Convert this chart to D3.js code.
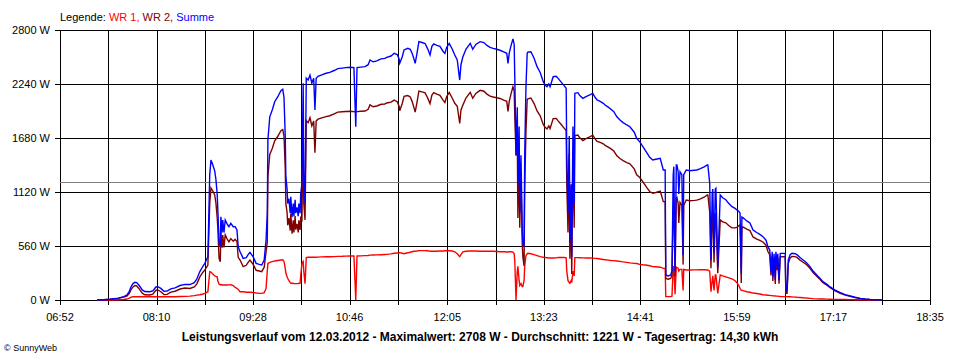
<!DOCTYPE html>
<html><head><meta charset="utf-8">
<script src="https://cdn.jsdelivr.net/npm/d3@7/dist/d3.min.js"></script>
<style>
html,body{margin:0;padding:0;background:#fff;}
svg{display:block;font-family:"Liberation Sans",Arial,sans-serif;}
</style></head>
<body>
<svg id="chart" width="960" height="360"></svg>
<script>
// ---- data ----
const times = ["07:22","07:27:30","07:32:30","07:39","07:43:30","07:46","07:48","07:49:30","07:51","07:52:30","07:54","07:56","07:58:30","08:00:30","08:04:30","08:07","08:09:30","08:11","08:13:30","08:16","08:18:30","08:21:30","08:25","08:29","08:33","08:37","08:40:30","08:42:30","08:45","08:47:30","08:49","08:51:30","08:53","08:54","08:55:30","08:57","08:58","08:59","08:59:30","09:00:30","09:01:30","09:02","09:03","09:03:30","09:04:30","09:05:30","09:07","09:08:30","09:10","09:12","09:13:30","09:15","09:16","09:17:30","09:20","09:22:30","09:24","09:25:30","09:28","09:30:30","09:33","09:35","09:37","09:38:30","09:39:30","09:40","09:41:30","09:43:30","09:45:30","09:48","09:50:30","09:52","09:53","09:54","09:54:30","09:55:30","09:56","09:57","09:58","09:58:30","09:59:30","10:00:30","10:01","10:02","10:02:30","10:03:30","10:04:30","10:05","10:06","10:06:30","10:07:30","10:08:30","10:09","10:10","10:11","10:12:30","10:14","10:15:30","10:17","10:18","10:19","10:20:30","10:23:30","10:27","10:30","10:33:30","10:36:30","10:40","10:43","10:46:30","10:49:30","10:51","10:52","10:55","10:58:30","11:01","11:02:30","11:05","11:08","11:11:30","11:14:30","11:16","11:19:30","11:22","11:24:30","11:26","11:26:30","11:28:30","11:30","11:33","11:35","11:36:30","11:38","11:39","11:40:30","11:42","11:44:30","11:47","11:48:30","11:49:30","11:51","11:52:30","11:54","11:56:30","11:59","12:01:30","12:03","12:04:30","12:06:30","12:09","12:11","12:13","12:14:30","12:15","12:16","12:17:30","12:20","12:23:30","12:25:30","12:28","12:31:30","12:34:30","12:37","12:39:30","12:42","12:45","12:47:30","12:51","12:53","12:54","12:55","12:56:30","12:58","12:59","12:59:30","13:00:30","13:01:30","13:02","13:03","13:03:30","13:04:30","13:05:30","13:06","13:07","13:07:30","13:08:30","13:09:30","13:10","13:12:30","13:15","13:17:30","13:20","13:22:30","13:24","13:25:30","13:27","13:28","13:30:30","13:33","13:34:30","13:37","13:39:30","13:41","13:41:30","13:42:30","13:43:30","13:44","13:45","13:45:30","13:46:30","13:47:30","13:48","13:50:30","13:52","13:54:30","13:57","14:00:30","14:02:30","14:04:30","14:06","14:08:30","14:11","14:12:30","14:15","14:17","14:19:30","14:22","14:24:30","14:27","14:30","14:32:30","14:36","14:38","14:40:30","14:43","14:46:30","14:48:30","14:51","14:53:30","14:57","14:59:30","15:01","15:01:30","15:03:30","15:05:30","15:06:30","15:07:30","15:08","15:09","15:10","15:10:30","15:11:30","15:12","15:13","15:14:30","15:15:30","15:16","15:18","15:21","15:24:30","15:26:30","15:29","15:32:30","15:35","15:35:30","15:37","15:38","15:39","15:39:30","15:40:30","15:41:30","15:42","15:43:30","15:45:30","15:47:30","15:50","15:52:30","15:55","15:57:30","15:59","16:00:30","16:01:30","16:02:30","16:03","16:04:30","16:07","16:09:30","16:12","16:15","16:17:30","16:20","16:22:30","16:24","16:25:30","16:26:30","16:27:30","16:28","16:29","16:30","16:30:30","16:31:30","16:32","16:33","16:34","16:35:30","16:38","16:38:30","16:39:30","16:40:30","16:42","16:43:30","16:46","16:47:30","16:50","16:52:30","16:55","16:58","17:00:30","17:03:30","17:06","17:08:30","17:12","17:14","17:18","17:22:30","17:26:30","17:30:30","17:34:30","17:38:30","17:42:30","17:46:30","17:51:30","17:56"];

const wr1 = [0,0,0,3,5,10,20,30,34,34,34,34,34,34,34,34,34,34,34,34,34,34,34,36,38,40,45,50,55,62,69,86,294,290,270,250,245,240,200,165,156,160,158,156,155,155,156,157,158,150,130,121,110,86,86,80,80,80,78,72,69,69,75,120,300,380,390,398,405,410,415,418,400,328,280,242,225,200,180,173,173,173,170,170,170,170,170,173,173,250,380,398,300,170,440,443,443,443,443,443,443,445,447,449,449,450,452,453,455,456,457,0,457,458,460,462,465,466,468,470,472,473,478,485,488,490,491,485,480,490,495,500,505,505,508,512,512,512,510,510,505,505,505,505,508,508,510,510,510,508,500,480,455,449,470,500,505,508,508,508,505,505,505,505,505,503,500,500,498,498,500,500,497,480,400,0,300,350,200,150,170,138,140,200,350,460,480,484,480,470,460,450,443,440,438,436,435,435,437,440,440,440,438,300,200,180,173,200,180,300,250,439,439,438,437,436,435,434,432,430,425,420,418,414,410,408,405,400,395,390,385,380,378,370,365,360,355,346,345,340,328,328,35,35,35,40,346,346,60,340,335,330,300,318,318,100,318,311,311,312,312,313,314,311,311,300,86,200,250,100,260,260,69,259,250,240,230,220,200,180,150,121,100,100,95,86,80,72,68,62,55,52,50,48,45,45,44,43,42,41,40,40,38,36,35,35,35,35,34,33,32,30,28,26,24,20,17,14,12,10,10,9,8,7,6,5,4,3,2,1,0,0,0];

const wr2 = [0,3,8,17,30,40,70,110,136,150,146,116,71,54,52,61,101,104,86,56,58,81,91,114,124,120,135,165,240,288,311,363,1006,1162,1130,1090,1005,860,750,435,397,704,542,674,545,675,634,603,637,610,630,605,443,415,346,360,390,414,371,308,301,294,340,500,600,1279,1510,1572,1651,1698,1755,1767,1700,1372,999,908,775,850,720,897,687,827,700,870,730,790,700,827,727,850,830,1849,1000,830,1860,1839,1890,1807,1857,1527,1857,1875,1888,1902,1911,1930,1948,1952,1955,1957,1953,1950,1953,1957,1960,1978,2024,2004,2012,2030,2033,2043,2052,2073,2057,2010,1963,2035,2113,2120,2105,2060,1995,1949,2052,2167,2158,2148,2110,2083,2036,2125,2150,2135,2122,2072,2048,2110,2152,2092,2040,2009,1875,1832,1970,2020,2095,2154,2092,2142,2174,2165,2135,2115,2105,2097,2090,2070,2060,1956,2060,2140,2211,2170,1900,1500,1700,850,1600,750,1330,588,448,353,1150,1740,2078,2086,2095,2040,1960,1910,1821,1790,1774,1804,1777,1881,1883,1858,1820,1780,1757,1200,700,1520,427,1000,269,1500,750,1704,1711,1682,1654,1674,1695,1709,1668,1644,1635,1620,1604,1586,1570,1545,1495,1467,1445,1425,1412,1360,1299,1270,1225,1160,1125,1106,1115,1129,1020,1020,224,215,224,260,950,1037,240,1060,1065,1000,800,1012,982,367,982,1037,1029,1033,1036,1047,1066,1089,1089,910,329,900,900,390,890,898,277,830,810,800,770,748,750,753,770,779,176,760,752,734,720,654,632,618,602,568,503,470,255,455,196,437,165,459,310,440,169,448,449,449,69,69,381,437,452,450,442,414,391,370,329,286,247,215,180,151,130,98,70,50,37,25,15,9,5,2,0];

const summe = [0,3,8,20,35,50,90,140,170,184,180,150,105,88,86,95,135,138,120,90,92,115,125,150,162,160,180,215,295,350,380,449,1300,1452,1400,1340,1250,1100,950,600,553,864,700,830,700,830,790,760,795,760,760,726,553,501,432,440,470,494,449,380,370,363,415,620,900,1659,1900,1970,2056,2108,2170,2185,2100,1700,1279,1150,1000,1050,900,1070,860,1000,870,1040,900,960,870,1000,900,1100,1210,2247,1300,1000,2300,2282,2333,2250,2300,1970,2300,2320,2335,2351,2360,2380,2400,2405,2410,2413,2410,1797,2410,2415,2420,2440,2489,2470,2480,2500,2505,2516,2530,2558,2545,2500,2454,2520,2593,2610,2600,2560,2500,2454,2560,2679,2670,2660,2620,2593,2541,2630,2655,2640,2630,2580,2558,2620,2662,2600,2540,2489,2330,2281,2440,2520,2600,2662,2600,2650,2679,2670,2640,2620,2610,2600,2590,2570,2558,2454,2560,2640,2708,2650,2300,1500,2000,1200,1800,900,1500,726,588,553,1500,2200,2558,2570,2575,2510,2420,2360,2264,2230,2212,2240,2212,2316,2320,2298,2260,2220,2195,1500,900,1700,600,1200,449,1800,1000,2143,2150,2120,2091,2110,2130,2143,2100,2074,2060,2040,2022,2000,1980,1953,1900,1867,1840,1815,1797,1740,1677,1640,1590,1520,1480,1452,1460,1469,1348,1348,259,250,259,300,1296,1383,300,1400,1400,1330,1100,1330,1300,467,1300,1348,1340,1345,1348,1360,1380,1400,1400,1210,415,1100,1150,490,1150,1158,346,1089,1060,1040,1000,968,950,933,920,900,276,860,847,820,800,726,700,680,657,620,553,518,300,500,240,480,207,500,350,480,207,484,484,484,104,104,415,470,484,480,470,440,415,390,346,300,259,225,190,160,138,105,76,55,41,28,17,10,5,2,0];

const seriesNames = ["WR 1", "WR 2", "Summe"];
const yTicks = [0, 560, 1120, 1680, 2240, 2800];
const xTickLabels = ["06:52","08:10","09:28","10:46","12:05","13:23","14:41","15:59","17:17","18:35"];
const average = 1221;
const legendPrefix = "Legende: ";
const titleText = "Leistungsverlauf vom 12.03.2012 - Maximalwert: 2708 W - Durchschnitt: 1221 W - Tagesertrag: 14,30 kWh";
const copyright = "\u00A9 SunnyWeb";

// ---- drawing ----
const colors = ["#ff0000", "#800000", "#0000ff"];
const toMin = s => { const p = s.split(":").map(Number); return p[0]*60 + p[1] + (p[2] || 0)/60; };

const L = 60, R = 930, T = 30, B = 300;
const svg = d3.select("#chart");

const tickMins = xTickLabels.map(toMin);
const x = d3.scaleLinear().domain([tickMins[0], tickMins[tickMins.length-1]]).range([L, R]);
const y = d3.scaleLinear().domain([0, 2800]).range([B, T]);

// grid positions: labelled ticks plus midpoints
const gridMins = [];
tickMins.forEach((m, i) => { gridMins.push(m); if (i < tickMins.length-1) gridMins.push((m + tickMins[i+1])/2); });

const g = svg.append("g");
const px = v => Math.round(v) + 0.5;

// horizontal grid + left ticks
g.selectAll("line.hg").data(yTicks).enter().append("line")
  .attr("x1", L - 5).attr("x2", R + 0.5)
  .attr("y1", d => px(y(d))).attr("y2", d => px(y(d)))
  .attr("stroke", "#000").attr("stroke-width", 1).attr("shape-rendering", "crispEdges");

// vertical grid + bottom ticks
g.selectAll("line.vg").data(gridMins).enter().append("line")
  .attr("x1", d => px(x(d))).attr("x2", d => px(x(d)))
  .attr("y1", px(y(2800))).attr("y2", px(y(0)) + 4)
  .attr("stroke", "#000").attr("stroke-width", 1).attr("shape-rendering", "crispEdges");

// average line
g.append("line")
  .attr("x1", L).attr("x2", R)
  .attr("y1", px(y(average))).attr("y2", px(y(average)))
  .attr("stroke", "#808080").attr("stroke-width", 1).attr("shape-rendering", "crispEdges");

// y labels
g.selectAll("text.yl").data(yTicks).enter().append("text")
  .attr("x", 50).attr("y", d => y(d) + 4)
  .attr("text-anchor", "end").attr("font-size", 11).attr("fill", "#000")
  .text(d => d + " W");

// x labels
g.selectAll("text.xl").data(xTickLabels).enter().append("text")
  .attr("x", d => x(toMin(d))).attr("y", 321)
  .attr("text-anchor", "middle").attr("font-size", 11).attr("fill", "#000")
  .text(d => d);

// series
const tm = times.map(toMin);
const seriesData = [wr1, wr2, summe];
const line = d3.line().x((d, i) => x(tm[i])).y(d => y(d)).curve(d3.curveLinear);
seriesData.forEach((vals, k) => {
  svg.append("path").datum(vals)
    .attr("d", line)
    .attr("fill", "none")
    .attr("stroke", colors[k])
    .attr("stroke-width", 1.4)
    .attr("stroke-linejoin", "miter");
});

// legend
const leg = svg.append("text").attr("x", 60).attr("y", 21).attr("font-size", 11);
leg.append("tspan").attr("fill", "#000").text(legendPrefix);
seriesNames.forEach((n, i) => {
  leg.append("tspan").attr("fill", colors[i]).text(n + (i < seriesNames.length-1 ? ", " : ""));
});

// title
svg.append("text").attr("x", 480).attr("y", 341)
  .attr("text-anchor", "middle").attr("font-size", 12).attr("font-weight", "bold")
  .attr("fill", "#000").text(titleText);

svg.append("text").attr("x", 4).attr("y", 351)
  .attr("font-size", 9).attr("fill", "#000").text(copyright);
</script>
</body></html>
